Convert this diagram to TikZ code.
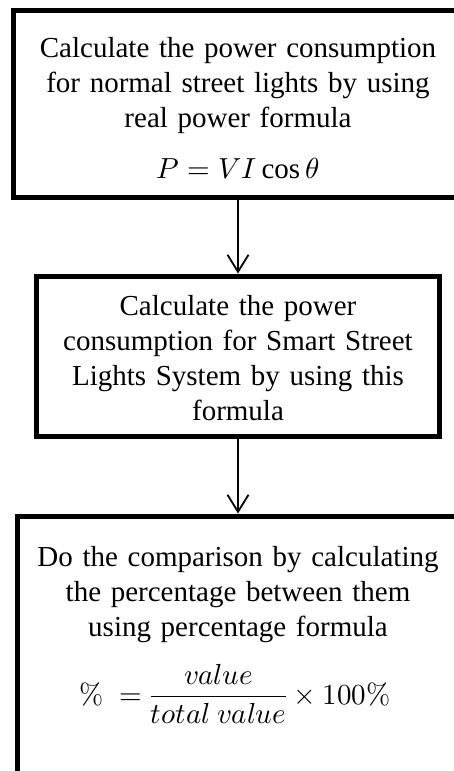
\documentclass[tikz,border=0pt]{standalone}
\usepackage{amsmath}
\usepackage{fontspec}
\usepackage{unicode-math}
\setmainfont{Liberation Serif}
\setmathfont{Latin Modern Math}
\usetikzlibrary{arrows.meta}
\begin{document}
\begin{tikzpicture}[x=1pt,y=1pt,
  stepframe/.style={draw, line width=5pt, rectangle, inner sep=0pt},
  steptext/.style={text width=430pt, align=center, inner sep=0pt, anchor=north,
    font=\fontsize{29}{35}\selectfont},
  formula/.style={inner sep=0pt, anchor=base, font=\fontsize{29}{35}\selectfont},
  flow/.style={line width=1.8pt,
    -{Straight Barb[length=17pt,width=21pt,line width=1.8pt]}}]
\useasboundingbox (0,0) rectangle (454,-771);
\clip (0,0) rectangle (454,-771);

% step frames (the first and last run past the page edge)
\node[stepframe, minimum width=449pt, minimum height=187pt] (f1) at (238,-104) {};
\node[stepframe, minimum width=403pt, minimum height=160pt] (f2) at (238,-356) {};
\node[stepframe, minimum width=442pt, minimum height=400pt] (f3) at (238,-716) {};

% step texts
\node[steptext] (t1) at (238,-37) {Calculate the power consumption\\
  for normal street lights by using\\ real power formula};
\node[formula] (e1) at (238,-178) {$P = VI\cos\theta$};

\node[steptext] (t2) at (238,-295) {Calculate the power\\
  consumption for Smart Street\\ Lights System by using this\\ formula};

\node[steptext] (t3) at (238,-546) {Do the comparison by calculating\\
  the percentage between them\\ using percentage formula};
\node[formula] (e3) at (235,-704) {$\%\ = \dfrac{value}{total\ value}\times 100\%$};

% connectors
\draw[flow] (f1.south) -- (f2.north);
\draw[flow] (f2.south) -- (f3.north);
\end{tikzpicture}
\end{document}
